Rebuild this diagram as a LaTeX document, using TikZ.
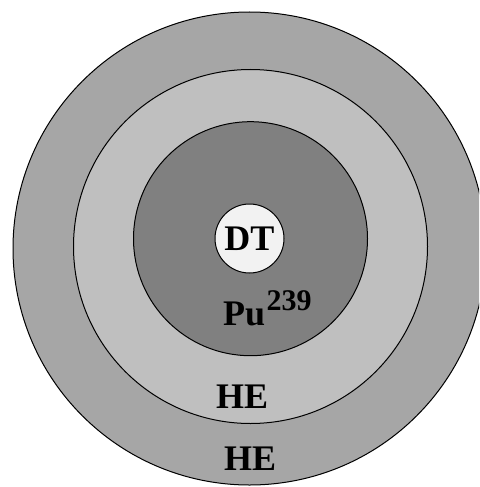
\documentclass[tikz,border=0pt]{standalone}
\usepackage{fontspec}
\setmainfont{Liberation Serif}
\definecolor{heouter}{RGB}{166,166,166}
\definecolor{heinner}{RGB}{191,191,191}
\definecolor{pucore}{RGB}{128,128,128}
\definecolor{dtgas}{RGB}{242,242,242}
\begin{document}
\begin{tikzpicture}[x=1pt,y=-1pt,
  shell/.style={draw, circle, line width=1pt, inner sep=0pt},
  lbl/.style={anchor=base west, inner sep=0pt, font=\fontsize{36}{40}\selectfont\bfseries}]
\useasboundingbox (0,0) rectangle (479,487);
\clip (0,0) rectangle (479,487);
\node[shell, fill=heouter, minimum size=473pt] (o) at (249.5,248.5) {};
\node[shell, fill=heinner, minimum size=354pt] (h) at (250.5,246.5) {};
\node[shell, fill=pucore, minimum size=234pt] (p) at (250.5,238.7) {};
\node[shell, fill=dtgas, minimum size=69pt, font=\fontsize{36}{40}\selectfont\bfseries] (d) at (249.5,238.5) {DT};
\node[lbl] (pu) at (223,325) {Pu\hspace{1.5pt}\raisebox{15pt}{\fontsize{30}{30}\selectfont 239}};
\node[lbl] (he1) at (216,408) {HE};
\node[lbl] (he2) at (224,470) {HE};
\end{tikzpicture}
\end{document}
